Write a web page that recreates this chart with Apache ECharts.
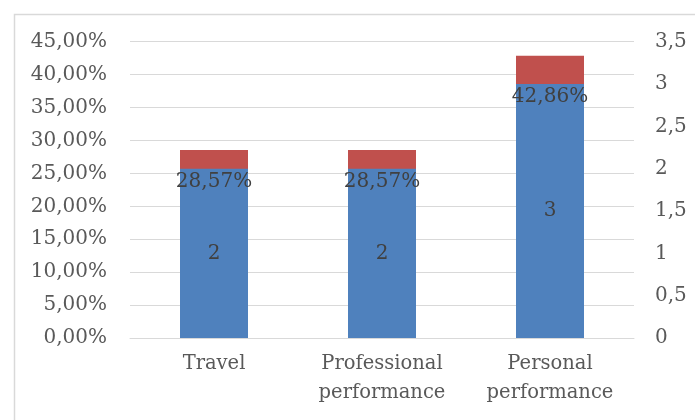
<!DOCTYPE html>
<html>
<head>
<meta charset="utf-8">
<script src="https://cdn.jsdelivr.net/npm/echarts@6/dist/echarts.min.js"></script>
<style>
  html, body { margin: 0; padding: 0; background: #fff; }
  #chart { width: 695px; height: 420px; }
</style>
</head>
<body>
<div id="chart"></div>
<script>
// Categories and values
const categories = ['Travel', 'Professional\nperformance', 'Personal\nperformance'];
const counts = [2, 2, 3];
const shares = [28.57, 28.57, 42.86]; // percent of answers

const FONT = 'DejaVu Serif';
const fmtComma = v => String(v).replace('.', ',');
const fmtPct = v => v.toFixed(2).replace('.', ',') + '%';

const chart = echarts.init(document.getElementById('chart'), null, { renderer: 'canvas' });

const option = {
  animation: false,
  backgroundColor: '#ffffff',
  graphic: [{
    type: 'rect',
    left: 12, top: 12,
    shape: { width: 700, height: 420 },
    style: { fill: 'none', stroke: '#D9D9D9', lineWidth: 1.5 },
    silent: true
  }],
  grid: { left: 130, right: 61, top: 41.7, bottom: 82 },
  xAxis: {
    type: 'category',
    data: categories,
    axisLine: { lineStyle: { color: '#D9D9D9', width: 1 } },
    axisTick: { show: false },
    axisLabel: {
      interval: 0,
      hideOverlap: false,
      color: '#595959', fontFamily: FONT, fontSize: 19.5, lineHeight: 29, margin: 11
    }
  },
  yAxis: [{
    type: 'value',
    min: 0, max: 45, interval: 5,
    axisLine: { show: false },
    axisTick: { show: false },
    splitLine: { lineStyle: { color: '#D9D9D9', width: 1 } },
    axisLabel: { color: '#595959', fontFamily: FONT, fontSize: 20, margin: 23, formatter: fmtPct }
  }, {
    type: 'value',
    min: 0, max: 3.5, interval: 0.5,
    axisLine: { show: false },
    axisTick: { show: false },
    splitLine: { show: false },
    axisLabel: { color: '#595959', fontFamily: FONT, fontSize: 20, margin: 21, align: 'left', formatter: fmtComma }
  }],
  series: [{
    id: 'share',
    name: 'Share',
    type: 'bar',
    yAxisIndex: 0,
    data: shares,
    barWidth: 68,
    barGap: '-100%',
    itemStyle: { color: '#C0504D' },
    label: {
      show: true,
      position: 'insideTop',
      color: '#404040',
      fontFamily: FONT,
      fontSize: 20,
      formatter: p => fmtPct(p.value)
    },
    z: 2
  }, {
    id: 'count',
    name: 'Count',
    type: 'bar',
    yAxisIndex: 1,
    data: counts,
    barWidth: 68,
    barGap: '-100%',
    itemStyle: { color: '#4F81BD' },
    label: {
      show: true,
      position: 'inside',
      color: '#404040',
      fontFamily: FONT,
      fontSize: 20,
      formatter: p => fmtComma(p.value)
    },
    z: 2
  }]
};

chart.setOption(option);

// Place each percentage label just under the top of the count bar it overlaps
const shareItems = shares.map((v, i) => {
  const shareTop = chart.convertToPixel({ yAxisIndex: 0 }, v);
  const countTop = chart.convertToPixel({ yAxisIndex: 1 }, counts[i]);
  return {
    value: v,
    label: { position: ['50%', countTop - shareTop + 13], align: 'center', verticalAlign: 'middle' }
  };
});
chart.setOption({ series: [{ id: 'share', data: shareItems }] });
</script>
</body>
</html>
